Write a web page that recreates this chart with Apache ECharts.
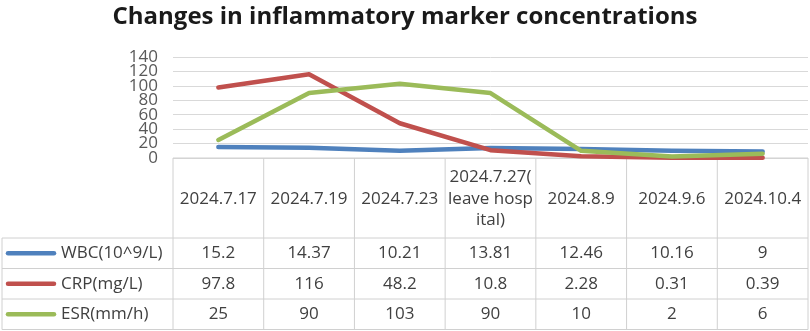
<!DOCTYPE html>
<html>
<head>
<meta charset="utf-8">
<script src="https://cdn.jsdelivr.net/npm/echarts@6/dist/echarts.min.js"></script>
<style>
  html, body { margin: 0; padding: 0; background: #fff; }
  #chart { width: 810px; height: 331px; }
</style>
</head>
<body>
<div id="chart"></div>
<script>
const categories = ['2024.7.17', '2024.7.19', '2024.7.23', '2024.7.27(\nleave hosp\nital)', '2024.8.9', '2024.9.6', '2024.10.4']
const seriesNames = ['WBC(10^9/L)', 'CRP(mg/L)', 'ESR(mm/h)']
const wbc = [15.2, 14.37, 10.21, 13.81, 12.46, 10.16, 9]
const crp = [97.8, 116, 48.2, 10.8, 2.28, 0.31, 0.39]
const esr = [25, 90, 103, 90, 10, 2, 6]
const yTicks = [0, 20, 40, 60, 80, 100, 120, 140]

const colors = ['#4F81BD', '#C0504D', '#9BBB59']
const font = '"Open Sans", "Noto Sans", sans-serif'
const textColor = '#404040'
const borderColor = '#d0d0d0'

// table geometry (rows below the plot)
const plotLeft = 173
const plotRight = 808
const plotTop = 57
const plotBottom = 158
const headerBottom = 238
const rowH = 30.5
const tableLeft = 2

const chart = echarts.init(document.getElementById('chart'))
const allSeries = [wbc, crp, esr]

chart.setOption({
  animation: false,
  title: {
    text: 'Changes in inflammatory marker concentrations',
    left: 'center',
    top: 0,
    textStyle: { fontSize: 24, fontWeight: 'bold', color: '#1a1a1a', fontFamily: font }
  },
  grid: { left: plotLeft, right: 810 - plotRight, top: plotTop, bottom: 331 - plotBottom },
  xAxis: {
    type: 'category',
    data: categories,
    boundaryGap: true,
    axisLine: { show: false },
    axisTick: { show: false },
    axisLabel: { show: false }
  },
  yAxis: {
    type: 'value',
    min: yTicks[0],
    max: yTicks[yTicks.length - 1],
    interval: yTicks[1] - yTicks[0],
    axisLine: { show: false },
    axisTick: { show: false },
    // tick labels are packed tighter than ECharts allows, drawn below instead
    axisLabel: { show: false },
    splitLine: { lineStyle: { color: '#d9d9d9', width: 1 } }
  },
  series: allSeries.map((d, i) => ({
    name: seriesNames[i],
    type: 'line',
    data: d,
    symbol: 'none',
    lineStyle: { color: colors[i], width: 4.5, cap: 'round', join: 'round' },
    itemStyle: { color: colors[i] }
  }))
})

// data table drawn under the plot, columns aligned with the category axis
function drawTable() {
  const els = []
  const colW = (plotRight - plotLeft) / categories.length
  const tableBottom = headerBottom + rowH * seriesNames.length
  const hline = (x1, x2, y) => els.push({ type: 'line', silent: true, shape: { x1, y1: y, x2, y2: y }, style: { stroke: borderColor, lineWidth: 1 } })
  const vline = (x, y1, y2) => els.push({ type: 'line', silent: true, shape: { x1: x, y1, x2: x, y2 }, style: { stroke: borderColor, lineWidth: 1 } })
  const txt = (text, x, y, align, fill) => els.push({
    type: 'text', silent: true,
    style: { text, x, y, align, verticalAlign: 'middle', fill: fill || textColor, font: '17px ' + font, lineHeight: 21.5 }
  })

  yTicks.forEach(v => {
    const y = chart.convertToPixel({ yAxisIndex: 0 }, v)
    txt(String(v), plotLeft - 15, y, 'right', '#595959')
  })

  hline(plotLeft, plotRight, plotBottom)
  hline(tableLeft, plotRight, headerBottom)
  for (let r = 1; r <= seriesNames.length; r++) hline(tableLeft, plotRight, headerBottom + rowH * r)
  vline(tableLeft, headerBottom, tableBottom)
  for (let c = 0; c <= categories.length; c++) vline(plotLeft + colW * c, plotBottom, tableBottom)

  categories.forEach((cat, c) => {
    const cx = chart.convertToPixel({ xAxisIndex: 0 }, c)
    txt(cat, cx, (plotBottom + headerBottom) / 2 + 1, 'center')
    allSeries.forEach((d, r) => {
      txt(String(d[c]), cx, headerBottom + rowH * (r + 0.5), 'center')
    })
  })

  seriesNames.forEach((name, r) => {
    const cy = headerBottom + rowH * (r + 0.5)
    els.push({ type: 'line', silent: true, shape: { x1: 8, y1: cy, x2: 54, y2: cy }, style: { stroke: colors[r], lineWidth: 4.5, lineCap: 'round' } })
    txt(name, 61, cy, 'left')
  })

  chart.setOption({ graphic: { elements: els } })
}
drawTable()
</script>
</body>
</html>
